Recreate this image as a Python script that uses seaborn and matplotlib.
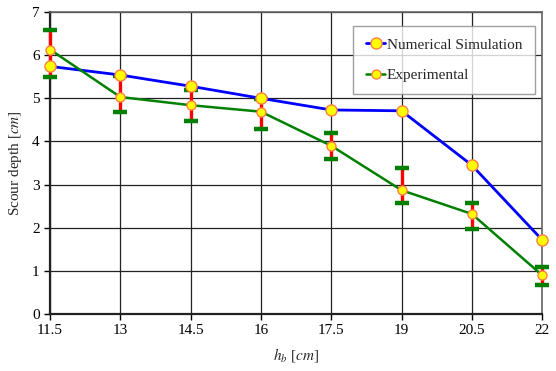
import numpy as np
import pandas as pd
import matplotlib
matplotlib.use("Agg")
import matplotlib.pyplot as plt
import seaborn as sns

# -----------------------------
# Data
# -----------------------------
hb = [11.5, 13, 14.5, 16, 17.5, 19, 20.5, 22]
numerical = [5.74, 5.54, 5.28, 5.00, 4.73, 4.71, 3.45, 1.72]
experimental = [6.13, 5.03, 4.84, 4.69, 3.90, 2.87, 2.32, 0.90]
err_top = [6.58, 5.51, 5.20, 4.98, 4.19, 3.39, 2.57, 1.08]
err_bottom = [5.50, 4.69, 4.48, 4.28, 3.60, 2.58, 1.97, 0.67]

df = pd.DataFrame({"hb": hb, "Numerical Simulation": numerical,
                   "Experimental": experimental})

# -----------------------------
# Style
# -----------------------------
sns.set_theme(style="white")
plt.rcParams['font.family'] = ['Liberation Serif', 'DejaVu Serif']
plt.rcParams['mathtext.fontset'] = 'stix'

fig = plt.figure(figsize=(5.56, 3.71), dpi=100)
ax = fig.add_axes([0.09, 0.1536, 0.885, 0.814])

ax.set_axisbelow(True)
ax.grid(True, color="#222222", linewidth=0.9)

# error bars on the experimental data: red bar, green caps
lower = np.array(experimental) - np.array(err_bottom)
upper = np.array(err_top) - np.array(experimental)
ax.errorbar(hb, experimental, yerr=[lower, upper], fmt="none",
            ecolor="red", elinewidth=2.4, capsize=0, zorder=3, clip_on=False)
ax.plot(hb + hb, err_top + err_bottom, linestyle="none", marker="_",
        markersize=10, markeredgewidth=3.2, color="green", zorder=4,
        clip_on=False)

sns.lineplot(data=df, x="hb", y="Numerical Simulation", ax=ax, color="blue",
             linewidth=2, marker="o", markersize=8, markerfacecolor="yellow",
             markeredgecolor="#ff8040", markeredgewidth=1.0,
             label="Numerical Simulation", zorder=5, clip_on=False)
sns.lineplot(data=df, x="hb", y="Experimental", ax=ax, color="green",
             linewidth=1.8, marker="o", markersize=6.5, markerfacecolor="yellow",
             markeredgecolor="#ff8040", markeredgewidth=1.0,
             label="Experimental", zorder=6, clip_on=False)

ax.set_xlim(11.5, 22)
ax.set_ylim(0, 7)
ax.set_xticks(hb)
ax.set_xticklabels(["11.5", "13", "14.5", "16", "17.5", "19", "20.5", "22"])
ax.set_yticks(range(0, 8))
ax.tick_params(axis="both", labelsize=11, length=4, width=1, direction="out",
               colors="black", bottom=True, left=True)

for side in ["left", "bottom"]:
    ax.spines[side].set_color("#222222")
    ax.spines[side].set_linewidth(1.6)
for side in ["top", "right"]:
    ax.spines[side].set_color("#666666")
    ax.spines[side].set_linewidth(1.2)

ax.set_xlabel(r"$h_b$ [$cm$]", fontsize=11, labelpad=6)
ax.set_ylabel(r"Scour depth [$cm$]", fontsize=11, labelpad=6)

leg = ax.legend(loc="upper right", bbox_to_anchor=(0.985, 0.955), fontsize=11,
                frameon=True, fancybox=False, edgecolor="#888888",
                handlelength=1.3, handletextpad=0.1, borderpad=0.8,
                labelspacing=1.1, borderaxespad=0)
leg.get_frame().set_linewidth(1.0)

fig.savefig("out.png", dpi=100)
